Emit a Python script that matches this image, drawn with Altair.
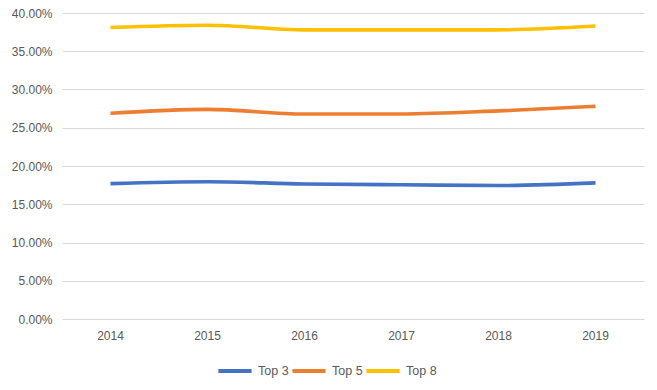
import altair as alt
import pandas as pd

years = ["2014", "2015", "2016", "2017", "2018", "2019"]
top3 = [0.177, 0.1795, 0.1765, 0.1755, 0.1745, 0.178]
top5 = [0.269, 0.274, 0.268, 0.268, 0.272, 0.278]
top8 = [0.381, 0.384, 0.378, 0.378, 0.378, 0.383]
series = ["Top 3", "Top 5", "Top 8"]
colors = ["#4472C4", "#ED7D31", "#FFC000"]

rows = []
for name, vals in zip(series, [top3, top5, top8]):
    for y, v in zip(years, vals):
        rows.append({"year": y, "value": v, "series": name})
df = pd.DataFrame(rows)

font = "Liberation Sans"
chart = alt.Chart(df).mark_line(strokeWidth=3.6, interpolate="monotone").encode(
    x=alt.X("year:N", sort=years, title=None,
            scale=alt.Scale(type="band", paddingInner=0, paddingOuter=0),
            axis=alt.Axis(labelAngle=0, ticks=False, domain=False, grid=False,
                          labelPadding=11, labelFont=font, labelFontSize=12,
                          labelColor="#595959")),
    y=alt.Y("value:Q", title=None,
            scale=alt.Scale(domain=[0, 0.4], nice=False),
            axis=alt.Axis(format=".2%", values=[i * 0.05 for i in range(9)],
                          ticks=False, domain=False, gridColor="#d9d9d9",
                          labelPadding=10, labelFont=font, labelFontSize=12,
                          labelColor="#595959")),
    color=alt.Color("series:N", sort=series,
                    scale=alt.Scale(domain=series, range=colors),
                    legend=alt.Legend(title=None, orient="none", direction="horizontal",
                                      legendX=154, legendY=339,
                                      symbolType="stroke", symbolSize=1100,
                                      symbolStrokeWidth=4, labelFont=font,
                                      labelFontSize=12.5, labelColor="#595959",
                                      labelOffset=4, columnPadding=-5)),
).properties(
    width=582, height=306,
    background="white",
    autosize=alt.AutoSizeParams(type="none"),
    padding={"left": 54, "top": 5, "right": 5, "bottom": 63},
).configure_view(strokeWidth=0, stroke="transparent")

chart.save("out.html", embed_options={"renderer": "svg", "actions": False})
